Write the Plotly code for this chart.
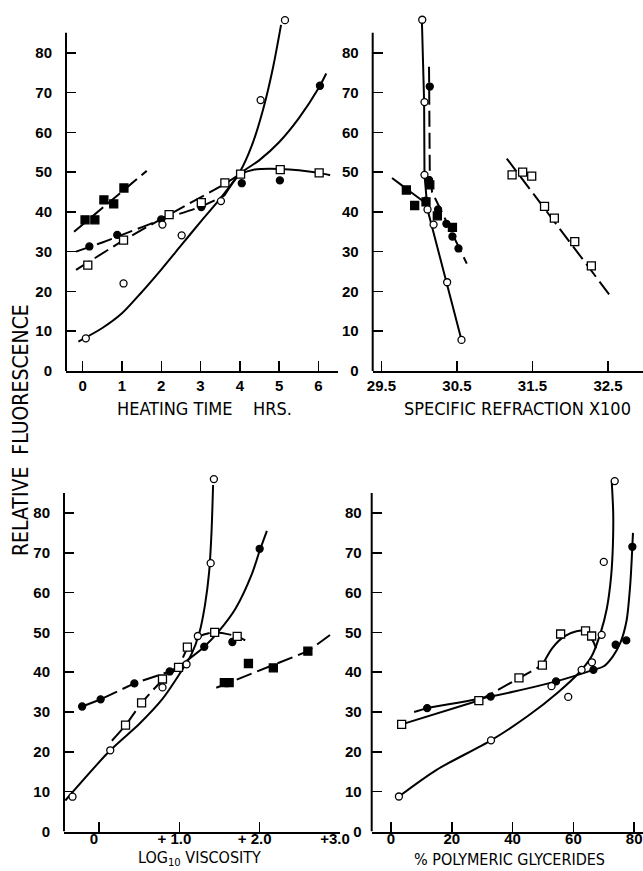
import plotly.graph_objects as go

W, H = 643, 871

# ---------------- Panel A : heating time (hrs) ----------------
A_xticks = [0, 1, 2, 3, 4, 5, 6]
A_fsq_x = [0.06, 0.31, 0.54, 0.79, 1.05]
A_fsq_y = [38, 38, 43, 42, 46]
A_fc_x = [0.17, 0.88, 2.0, 3.02, 4.05, 5.02, 6.04]
A_fc_y = [31.3, 34.2, 38.1, 41.2, 47.2, 47.9, 71.7]
A_osq_x = [0.13, 1.04, 2.2, 3.02, 3.62, 4.02, 5.03, 6.02]
A_osq_y = [26.6, 32.9, 39.3, 42.3, 47.3, 49.5, 50.6, 49.8]
A_oc_x = [0.08, 1.04, 2.03, 2.52, 3.52, 4.53, 5.15]
A_oc_y = [8.2, 22, 36.8, 34.1, 42.7, 68.1, 88.2]
# drawn curves
A_fsq_cx = [-0.22, 1.63]
A_fsq_cy = [35, 50.3]
A_fc_c1x = [-0.17, 0.5, 1.0, 2.0, 3.0, 3.6]
A_fc_c1y = [30, 32.3, 34.2, 38, 41.3, 44]
A_fc_c2x = [3.6, 4.0, 4.5, 5.0, 5.5, 6.0, 6.2]
A_fc_c2y = [44, 49.5, 53, 57.5, 63.5, 71, 74.8]
A_osq_c1x = [-0.17, 1.04, 2.2, 3.62]
A_osq_c1y = [25.4, 32.9, 39.3, 47.0]
A_osq_c2x = [3.62, 4.02, 4.35, 5.03, 6.02, 6.3]
A_osq_c2y = [47.0, 49.5, 50.6, 50.8, 49.8, 49.2]
A_oc_cx = [-0.11, 0.5, 1.0, 1.5, 2.0, 2.5, 3.0, 3.5, 4.0, 4.3, 4.6, 4.85, 5.05]
A_oc_cy = [7.4, 10.8, 14.5, 19.8, 25.5, 31.5, 37.5, 43.3, 50, 56.5, 66, 76.5, 87]

# ---------------- Panel B : specific refraction x100 ----------------
B_xticks = [29.5, 30.5, 31.5, 32.5]
B_oc_x = [30.04, 30.07, 30.07, 30.11, 30.19, 30.37, 30.56]
B_oc_y = [88.3, 67.6, 49.3, 40.6, 36.8, 22.3, 7.8]
B_fc_x = [30.14, 30.13, 30.09, 30.25, 30.36, 30.44, 30.52]
B_fc_y = [71.5, 48, 42.8, 40.6, 37, 33.8, 30.8]
B_fsq_x = [29.83, 29.94, 30.09, 30.14, 30.24, 30.44]
B_fsq_y = [45.5, 41.6, 42.5, 46.8, 39, 36.1]
B_osq_x = [31.23, 31.37, 31.49, 31.66, 31.79, 32.06, 32.28]
B_osq_y = [49.3, 50, 49, 41.4, 38.4, 32.5, 26.4]
B_oc_cx = [30.035, 30.065, 30.07, 30.11, 30.56]
B_oc_cy = [88.5, 67.6, 49.3, 40.6, 7.8]
B_fc_cx = [30.13, 30.14, 30.17, 30.63]
B_fc_cy = [76.5, 50, 45, 27]
B_fsq_cx = [29.64, 30.1]
B_fsq_cy = [48.5, 42]
B_osq_cx = [31.16, 32.53]
B_osq_cy = [53.4, 18.9]

# ---------------- Panel C : log10 viscosity ----------------
C_xticks = [0, 1, 2, 3]
C_xlabels = ["0", "+ 1.0", "+ 2.0", "+3.0"]
C_oc_x = [-0.33, 0.14, 0.79, 1.09, 1.23, 1.39, 1.43]
C_oc_y = [8.75, 20.4, 36.2, 42, 49.1, 67.4, 88.5]
C_fc_x = [-0.21, 0.02, 0.44, 0.88, 1.31, 1.66, 2.0]
C_fc_y = [31.4, 33.2, 37.2, 40.2, 46.4, 47.6, 71]
C_osq_x = [0.33, 0.53, 0.79, 0.99, 1.10, 1.44, 1.72]
C_osq_y = [26.7, 32.3, 38.3, 41.2, 46.3, 50, 49]
C_fsq_x = [1.56, 1.62, 1.86, 2.17, 2.6]
C_fsq_y = [37.4, 37.4, 42.2, 41.1, 45.3]
C_oc_cx = [-0.42, 0.14, 0.5, 0.79, 1.0, 1.15, 1.25, 1.32, 1.37, 1.40, 1.42]
C_oc_cy = [7.8, 20.4, 27, 33.3, 39.5, 44.5, 50, 57, 65, 75, 87]
C_fc_c1x = [-0.21, 0.02, 0.44, 0.88, 1.0]
C_fc_c1y = [31.4, 33.2, 37.2, 40.2, 41.5]
C_fc_c2x = [1.0, 1.31, 1.5, 1.7, 1.9, 2.0, 2.09]
C_fc_c2y = [41.5, 46.4, 50.5, 56, 64.5, 70.5, 75.5]
C_osq_cx = [0.16, 0.33, 0.53, 0.79, 0.99, 1.10, 1.25, 1.44, 1.72, 1.82]
C_osq_cy = [22.8, 26.7, 32.3, 38, 41.5, 46, 49, 50, 49, 48]
C_fsq_cx = [1.46, 2.6, 2.9]
C_fsq_cy = [36.1, 45.3, 49.7]

# ---------------- Panel D : % polymeric glycerides ----------------
D_xticks = [0, 20, 40, 60, 80]
D_oc_x = [2.6, 32.9, 52.8, 58.3, 62.7, 66.1, 69.3, 70.0, 73.6]
D_oc_y = [8.8, 22.9, 36.5, 33.8, 40.6, 42.5, 49.4, 67.7, 88]
D_fc_x = [11.9, 32.8, 54.3, 66.6, 73.9, 77.4, 79.4]
D_fc_y = [31, 33.9, 37.7, 40.6, 46.9, 48, 71.5]
D_osq_x = [3.5, 28.9, 42.1, 49.8, 55.8, 64.0, 66.0]
D_osq_y = [26.9, 32.9, 38.6, 41.8, 49.6, 50.4, 49.1]
D_oc_cx = [2.6, 15, 32.9, 45, 55, 62, 66, 69, 71, 72.4, 73, 73.1, 72.6]
D_oc_cy = [8.8, 15.5, 22.9, 29, 35, 40, 44, 50, 56, 64, 72, 80, 88]
D_fc_c1x = [7.6, 11.9]
D_fc_c1y = [30, 31]
D_fc_c2x = [11.9, 32.8, 54.3, 66.6, 70, 73, 75.5, 77.5, 78.7, 79.3, 79.6]
D_fc_c2y = [31, 33.9, 37.7, 40.6, 41.5, 44, 47.5, 53, 62, 70, 75]
D_osq_c1x = [3.5, 28.9]
D_osq_c1y = [26.9, 32.9]
D_osq_c2x = [28.9, 42.1, 49.8]
D_osq_c2y = [32.9, 38.6, 41.8]
D_osq_c3x = [49.8, 53, 57, 61, 64, 66, 67.5]
D_osq_c3y = [41.8, 46, 49, 50.3, 50.3, 48.5, 46]

Y_TICKS = [0, 10, 20, 30, 40, 50, 60, 70, 80]

fig = go.Figure()
DASH = "16px,6px"


def curve(x, y, ax, dash="solid", shape="spline"):
    fig.add_trace(go.Scatter(x=x, y=y, mode="lines", xaxis=ax[0], yaxis=ax[1],
                             line=dict(color="black", width=2, dash=dash, shape=shape,
                                       smoothing=0.8),
                             hoverinfo="skip", showlegend=False))


def pts(x, y, ax, kind):
    sym = "square" if "sq" in kind else "circle"
    filled = kind.startswith("f")
    size = 8 if sym == "square" else 7
    fig.add_trace(go.Scatter(x=x, y=y, mode="markers", xaxis=ax[0], yaxis=ax[1],
                             cliponaxis=False,
                             marker=dict(symbol=sym, size=size,
                                         color="black" if filled else "white",
                                         line=dict(color="black", width=1.3)),
                             showlegend=False))


A = ("x", "y"); B = ("x2", "y2"); C = ("x3", "y3"); D = ("x4", "y4")

# Panel A
curve(A_fsq_cx, A_fsq_cy, A, DASH)
curve(A_fc_c1x, A_fc_c1y, A, DASH)
curve(A_fc_c2x, A_fc_c2y, A)
curve(A_osq_c1x, A_osq_c1y, A, DASH, "linear")
curve(A_osq_c2x, A_osq_c2y, A)
curve(A_oc_cx, A_oc_cy, A)
pts(A_fsq_x, A_fsq_y, A, "fsq"); pts(A_fc_x, A_fc_y, A, "fc")
pts(A_osq_x, A_osq_y, A, "osq"); pts(A_oc_x, A_oc_y, A, "oc")

# Panel B
curve(B_oc_cx, B_oc_cy, B, "solid", "linear")
curve(B_fc_cx, B_fc_cy, B, DASH, "linear")
curve(B_fsq_cx, B_fsq_cy, B, DASH, "linear")
curve(B_osq_cx, B_osq_cy, B, DASH, "linear")
pts(B_fsq_x, B_fsq_y, B, "fsq"); pts(B_fc_x, B_fc_y, B, "fc")
pts(B_osq_x, B_osq_y, B, "osq"); pts(B_oc_x, B_oc_y, B, "oc")

# Panel C
curve(C_oc_cx, C_oc_cy, C)
curve(C_fc_c1x, C_fc_c1y, C, DASH, "linear")
curve(C_fc_c2x, C_fc_c2y, C)
curve(C_osq_cx, C_osq_cy, C, DASH)
curve(C_fsq_cx, C_fsq_cy, C, DASH, "linear")
pts(C_fsq_x, C_fsq_y, C, "fsq"); pts(C_fc_x, C_fc_y, C, "fc")
pts(C_osq_x, C_osq_y, C, "osq"); pts(C_oc_x, C_oc_y, C, "oc")

# Panel D
curve(D_oc_cx, D_oc_cy, D)
curve(D_fc_c1x, D_fc_c1y, D, DASH, "linear")
curve(D_fc_c2x, D_fc_c2y, D)
curve(D_osq_c1x, D_osq_c1y, D, "solid", "linear")
curve(D_osq_c2x, D_osq_c2y, D, DASH, "linear")
curve(D_osq_c3x, D_osq_c3y, D)
pts(D_fc_x, D_fc_y, D, "fc")
pts(D_osq_x, D_osq_y, D, "osq"); pts(D_oc_x, D_oc_y, D, "oc")

TICKFONT = dict(family="Liberation Sans, Arial, sans-serif", size=15, color="black", weight="bold")
TITLEFONT = dict(family="Liberation Sans Narrow, DejaVu Sans Condensed, Liberation Sans, sans-serif",
                 size=18, color="black")


def xax(domain, rng, tickvals, standoff, ticktext=None, shift=0):
    d = dict(domain=domain, range=rng, tickmode="array", tickvals=tickvals,
             ticks="inside", ticklen=10, tickwidth=1.5, tickcolor="black",
             showline=True, linecolor="black", linewidth=2, showgrid=False,
             zeroline=False, tickfont=TICKFONT, ticklabelstandoff=standoff,
             ticklabelshift=shift, automargin=False, fixedrange=True)
    if ticktext is not None:
        d["ticktext"] = ticktext
    return d


def yax(domain, anchor, standoff=13):
    return dict(domain=domain, range=[0, 90], anchor=anchor, tickmode="array",
                tickvals=Y_TICKS, ticks="inside", ticklen=10, tickwidth=1.5,
                tickcolor="black", showline=False, showgrid=False, zeroline=False,
                tickfont=TICKFONT, ticklabelstandoff=standoff, automargin=False,
                fixedrange=True)


TOP = [0.5741, 0.9851]
BOT = [0.0453, 0.4568]

fig.update_layout(
    width=W, height=H, margin=dict(l=0, r=0, t=0, b=0, autoexpand=False),
    paper_bgcolor="white", plot_bgcolor="white", showlegend=False,
    xaxis=xax([66 / W, 338 / W], [-0.425, 6.5], A_xticks, 0),
    yaxis=yax(TOP, "x"),
    xaxis2=xax([372.7 / W, 1.0], [29.384, 32.964], B_xticks, 0,
               [str(v) for v in B_xticks]),
    yaxis2=yax(TOP, "x2"),
    xaxis3=xax([64 / W, 340 / W], [-0.436, 3.0], C_xticks, -8, C_xlabels, -5),
    yaxis3=yax(BOT, "x3"),
    xaxis4=xax([371.7 / W, 1.0], [-6.35, 82.9], D_xticks, -8),
    yaxis4=yax(BOT, "x4", 9),
)
fig.update_layout(xaxis=dict(anchor="y"), xaxis2=dict(anchor="y2"),
                  xaxis3=dict(anchor="y3"), xaxis4=dict(anchor="y4"))

# vertical axis lines (stop at 85 as in the original)
for xr, yr in [("x", "y"), ("x2", "y2"), ("x3", "y3"), ("x4", "y4")]:
    fig.add_shape(type="line", xref=f"{xr} domain", yref=yr, x0=0, x1=0, y0=0, y1=85,
                  line=dict(color="black", width=2))

NB = "\u00a0"
titles = [
    ("HEATING" + NB + "TIME" + NB * 4 + "HRS.", 204, 408, 0, 18, "middle"),
    ("SPECIFIC REFRACTION X100", 517, 408, 0, 18, "middle"),
    ("LOG<sub>10</sub> VISCOSITY", 199, 871, 0, 16, "bottom"),
    ("%" + NB + "POLYMERIC GLYCERIDES", 509, 871, 0, 16, "bottom"),
    ("RELATIVE" + NB * 2 + "FLUORESCENCE", 21, 430, -90, 21, "middle"),
]
for text, px, py, ang, fs, ya in titles:
    f = dict(TITLEFONT); f["size"] = fs
    fig.add_annotation(text=text, x=px / W, y=1 - py / H, xref="paper", yref="paper",
                       showarrow=False, textangle=ang, font=f,
                       xanchor="center", yanchor=ya)

fig.write_html("out.html", config={"displayModeBar": False, "staticPlot": True},
               post_script="document.body.style.margin='0';document.body.style.overflow='hidden';")
